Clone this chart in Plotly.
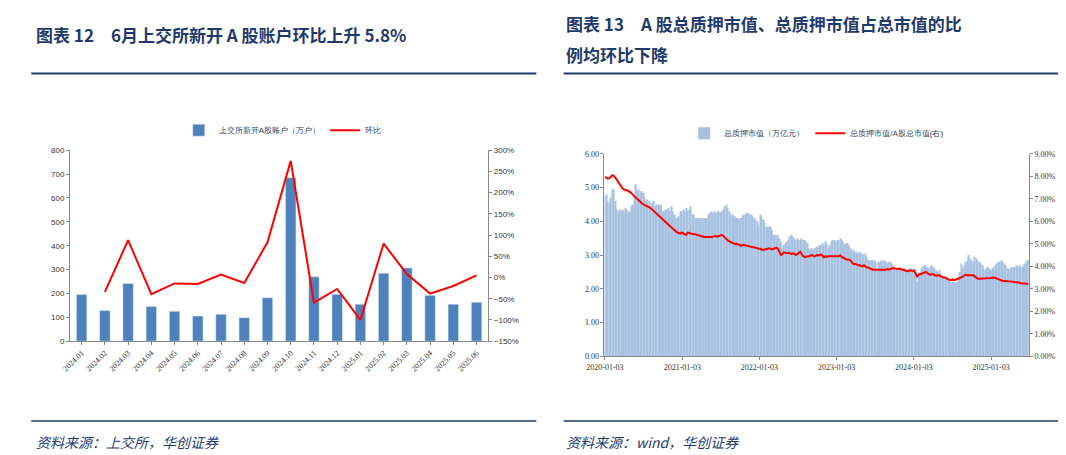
import pandas as pd
import plotly.graph_objects as go

# ---- left chart: 上交所新开A股账户
months = ['2024.01', '2024.02', '2024.03', '2024.04', '2024.05', '2024.06', '2024.07', '2024.08', '2024.09',
          '2024.10', '2024.11', '2024.12', '2025.01', '2025.02', '2025.03', '2025.04', '2025.05', '2025.06']
new_accounts = [195, 128, 242, 145, 125, 105, 113, 98, 182, 685, 270, 197, 155, 285, 307, 192, 155, 163]
mom_pct = [None, -34, 88, -39, -14, -15, 7, -13, 83, 275, -59, -27, -100, 80, 8, -38, -20, 5]

# ---- right chart: 总质押市值 weekly (万亿元) and ratio (%)
pledge_2020 = [4.75, 4.8, 4.6, 4.55, 4.7, 4.95, 4.95, 4.6, 4.35, 4.3, 4.35, 4.3, 4.35, 4.3, 4.4, 4.35, 4.25,
               4.3, 4.45, 4.5, 4.7, 5.1, 4.9, 4.95, 4.85, 4.9, 4.85, 4.7, 4.6, 4.65, 4.6, 4.5, 4.55, 4.6, 4.45,
               4.5, 4.5, 4.45, 4.5, 4.3, 4.3, 4.35, 4.35, 4.4, 4.3, 4.45, 4.3, 4.2, 4.1, 4.1, 4.15, 4.3]
pledge_2021 = [4.3, 4.35, 4.3, 4.4, 4.3, 4.35, 4.45, 4.2, 4.2, 4.1, 4.05, 4.1, 4.1, 4.1, 4.05, 4.1, 4.1, 4.1,
               4.2, 4.25, 4.3, 4.25, 4.3, 4.25, 4.3, 4.3, 4.25, 4.3, 4.35, 4.45, 4.5, 4.4, 4.3, 4.2, 4.2, 4.15,
               4.15, 4.1, 4.1, 4.05, 4.1, 4.15, 4.2, 4.2, 4.25, 4.25, 4.2, 4.2, 4.15, 4.1, 4.05, 4.0, 3.9]
pledge_2022 = [4.2, 4.15, 4.05, 3.95, 3.85, 3.8, 3.85, 3.85, 3.75, 3.6, 3.6, 3.55, 3.6, 3.5, 3.4, 3.2, 3.3,
               3.35, 3.4, 3.45, 3.55, 3.6, 3.55, 3.5, 3.45, 3.5, 3.45, 3.45, 3.5, 3.45, 3.45, 3.4, 3.35, 3.2,
               3.15, 3.2, 3.15, 3.2, 3.25, 3.25, 3.3, 3.3, 3.35, 3.3, 3.4, 3.35, 3.2, 3.3, 3.4, 3.45, 3.45, 3.4]
pledge_2023 = [3.45, 3.45, 3.5, 3.45, 3.4, 3.3, 3.35, 3.35, 3.3, 3.2, 3.15, 3.15, 3.1, 3.1, 3.05, 3.1, 3.05,
               3.05, 3.0, 3.05, 2.95, 2.85, 2.85, 2.85, 2.85, 2.85, 2.8, 2.6, 2.8, 2.8, 2.85, 2.8, 2.85, 2.8,
               2.75, 2.8, 2.8, 2.75, 2.7, 2.65, 2.6, 2.6, 2.65, 2.6, 2.55, 2.6, 2.6, 2.55, 2.6, 2.6, 2.6, 2.55]
pledge_2024 = [2.6, 2.5, 2.2, 2.45, 2.5, 2.6, 2.65, 2.7, 2.7, 2.65, 2.6, 2.65, 2.7, 2.65, 2.6, 2.55, 2.5,
               2.55, 2.45, 2.4, 2.35, 2.35, 2.3, 2.3, 2.25, 2.2, 2.2, 2.2, 2.15, 2.2, 2.3, 2.5, 2.75, 2.6,
               2.7, 2.8, 2.85, 3.0, 2.9, 2.85, 2.8, 2.95, 2.9, 2.85, 2.8, 2.75, 2.7, 2.6, 2.55, 2.6, 2.65, 2.6]
pledge_2025 = [2.55, 2.6, 2.65, 2.7, 2.75, 2.8, 2.8, 2.85, 2.8, 2.75, 2.7, 2.6, 2.6, 2.6, 2.65, 2.65, 2.65,
               2.7, 2.65, 2.7, 2.65, 2.65, 2.7, 2.75, 2.8, 2.85]

ratio_2020 = [7.95, 7.95, 7.9, 7.92, 7.98, 8.05, 8.02, 7.95, 7.85, 7.75, 7.65, 7.55, 7.45, 7.42, 7.38, 7.38,
              7.35, 7.3, 7.25, 7.15, 7.1, 7.05, 6.98, 6.92, 6.85, 6.8, 6.75, 6.72, 6.7, 6.68, 6.62, 6.58,
              6.52, 6.48, 6.42, 6.35, 6.3, 6.25, 6.18, 6.12, 6.05, 5.98, 5.92, 5.85, 5.78, 5.72, 5.65, 5.58,
              5.52, 5.5, 5.48, 5.45]
ratio_2021 = [5.5, 5.45, 5.42, 5.4, 5.5, 5.48, 5.45, 5.45, 5.42, 5.42, 5.4, 5.38, 5.35, 5.33, 5.3, 5.3, 5.3,
              5.3, 5.28, 5.3, 5.3, 5.32, 5.35, 5.35, 5.32, 5.35, 5.38, 5.4, 5.35, 5.3, 5.22, 5.15, 5.1,
              5.08, 5.05, 5.0, 4.98, 5.0, 4.98, 4.95, 4.9, 4.95, 4.95, 4.93, 4.9, 4.88, 4.88, 4.85, 4.85,
              4.85, 4.82, 4.8, 4.78]
ratio_2022 = [4.78, 4.75, 4.72, 4.75, 4.75, 4.78, 4.8, 4.78, 4.75, 4.78, 4.8, 4.82, 4.78, 4.6, 4.5, 4.55,
              4.62, 4.6, 4.6, 4.58, 4.58, 4.55, 4.58, 4.55, 4.5, 4.55, 4.62, 4.65, 4.55, 4.45, 4.42, 4.42,
              4.44, 4.45, 4.48, 4.5, 4.45, 4.45, 4.5, 4.48, 4.5, 4.52, 4.48, 4.4, 4.45, 4.42, 4.45, 4.45,
              4.42, 4.42, 4.45, 4.45]
ratio_2023 = [4.45, 4.45, 4.48, 4.42, 4.38, 4.35, 4.3, 4.3, 4.3, 4.25, 4.15, 4.1, 4.1, 4.08, 4.05, 4.05,
              4.02, 4.0, 4.05, 4.0, 3.95, 3.95, 3.9, 3.88, 3.85, 3.85, 3.85, 3.85, 3.82, 3.85, 3.85, 3.85,
              3.85, 3.85, 3.88, 3.85, 3.88, 3.9, 3.92, 3.9, 3.9, 3.88, 3.88, 3.88, 3.85, 3.85, 3.8, 3.8,
              3.78, 3.82, 3.8, 3.8]
ratio_2024 = [3.8, 3.7, 3.55, 3.62, 3.65, 3.65, 3.7, 3.72, 3.75, 3.7, 3.65, 3.62, 3.65, 3.65, 3.6, 3.58,
              3.6, 3.6, 3.55, 3.52, 3.5, 3.5, 3.45, 3.42, 3.4, 3.38, 3.42, 3.38, 3.4, 3.45, 3.45, 3.48, 3.5,
              3.55, 3.6, 3.62, 3.6, 3.6, 3.6, 3.58, 3.6, 3.55, 3.5, 3.45, 3.45, 3.45, 3.45, 3.45, 3.45,
              3.47, 3.48, 3.48]
ratio_2025 = [3.48, 3.5, 3.5, 3.48, 3.45, 3.42, 3.4, 3.38, 3.35, 3.35, 3.35, 3.33, 3.32, 3.32, 3.32, 3.3,
              3.3, 3.3, 3.28, 3.28, 3.25, 3.25, 3.25, 3.24, 3.23, 3.2]

pledge = pledge_2020 + pledge_2021 + pledge_2022 + pledge_2023 + pledge_2024 + pledge_2025
ratio = ratio_2020 + ratio_2021 + ratio_2022 + ratio_2023 + ratio_2024 + ratio_2025
weeks = pd.date_range('2020-01-03', periods=len(pledge), freq='7D')
year_ticks = ['2020-01-03', '2021-01-03', '2022-01-03', '2023-01-03', '2024-01-03', '2025-01-03']

NAVY = '#1F3A6E'
SANS = 'Liberation Sans, Arial'
SERIF = 'Liberation Serif, Times New Roman'

fig = go.Figure()
fig.add_trace(go.Bar(x=months, y=new_accounts, name='上交所新开A股账户（万户）', marker_color='#4F81BD',
                     width=0.45, xaxis='x', yaxis='y', legend='legend'))
fig.add_trace(go.Scatter(x=months, y=mom_pct, name='环比', mode='lines', line=dict(color='#FF0000', width=2),
                         xaxis='x', yaxis='y2', legend='legend'))
fig.add_trace(go.Bar(x=weeks, y=pledge, name='总质押市值（万亿元）', marker_color='#A9C1E0',
                     marker_line_width=0, xaxis='x3', yaxis='y3', legend='legend2'))
fig.add_trace(go.Scatter(x=weeks, y=ratio, name='总质押市值/A股总市值(右)', mode='lines',
                         line=dict(color='#FF0000', width=2), xaxis='x3', yaxis='y4', legend='legend2'))

axis_common = dict(showgrid=False, zeroline=False, linecolor='#888', ticks='outside', ticklen=3,
                   tickcolor='#888', tickfont=dict(size=8, color='#333'))
fig.update_layout(
    width=1066, height=455, margin=dict(l=0, r=0, t=0, b=0),
    paper_bgcolor='white', plot_bgcolor='white', bargap=0.1,
    xaxis=dict(domain=[0.042, 0.441], anchor='y', tickangle=-45, showline=True, **axis_common,
               tickfont_family=SERIF),
    yaxis=dict(domain=[0.262, 0.69], anchor='x', range=[0, 800], dtick=100, showline=True,
               **axis_common),
    yaxis2=dict(overlaying='y', side='right', anchor='x', range=[-150, 300], dtick=50, ticksuffix='%',
                showline=True, **axis_common),
    xaxis3=dict(domain=[0.552, 0.957], anchor='y3', type='date', tickvals=year_ticks,
                tickformat='%Y-%m-%d', range=['2020-01-01', '2025-07-01'], showline=True,
                **axis_common, tickfont_family=SERIF),
    yaxis3=dict(domain=[0.228, 0.682], anchor='x3', range=[0, 6], dtick=1, tickformat='.2f',
                showline=True, **axis_common, tickfont_family=SERIF),
    yaxis4=dict(overlaying='y3', side='right', anchor='x3', range=[0, 9], dtick=1, tickformat='.2f',
                ticksuffix='%', showline=True, **axis_common, tickfont_family=SERIF),
    legend=dict(orientation='h', x=0.245, xanchor='center', y=0.735, yanchor='middle',
                font=dict(size=8, family=SANS), bgcolor='rgba(0,0,0,0)'),
    legend2=dict(orientation='h', x=0.755, xanchor='center', y=0.728, yanchor='middle',
                 font=dict(size=8, family=SANS), bgcolor='rgba(0,0,0,0)'),
    font=dict(family=SANS),
)

title_font = dict(family='Noto Sans CJK SC', size=17, color=NAVY)
fig.add_annotation(text='<b>图表 12　6月上交所新开 A 股账户环比上升 5.8%</b>', x=0.008, y=0.95,
                   xref='paper', yref='paper', xanchor='left', yanchor='middle', showarrow=False,
                   font=title_font)
fig.add_annotation(text='<b>图表 13　A 股总质押市值、总质押市值占总市值的比</b>', x=0.513, y=0.975,
                   xref='paper', yref='paper', xanchor='left', yanchor='middle', showarrow=False,
                   font=title_font)
fig.add_annotation(text='<b>例均环比下降</b>', x=0.513, y=0.905,
                   xref='paper', yref='paper', xanchor='left', yanchor='middle', showarrow=False,
                   font=title_font)
src_font = dict(family='Noto Sans CJK SC', size=14, color=NAVY)
fig.add_annotation(text='<i>资料来源：上交所，华创证券</i>', x=0.008, y=0.035, xref='paper', yref='paper',
                   xanchor='left', yanchor='middle', showarrow=False, font=src_font)
fig.add_annotation(text='<i>资料来源：wind，华创证券</i>', x=0.513, y=0.035, xref='paper', yref='paper',
                   xanchor='left', yanchor='middle', showarrow=False, font=src_font)

for x0, x1 in [(0.005, 0.487), (0.513, 0.995)]:
    fig.add_shape(type='line', x0=x0, x1=x1, y0=0.862, y1=0.862, xref='paper', yref='paper',
                  line=dict(color=NAVY, width=2))
    fig.add_shape(type='line', x0=x0, x1=x1, y0=0.083, y1=0.083, xref='paper', yref='paper',
                  line=dict(color=NAVY, width=1.5))

fig.write_html("out.html")
